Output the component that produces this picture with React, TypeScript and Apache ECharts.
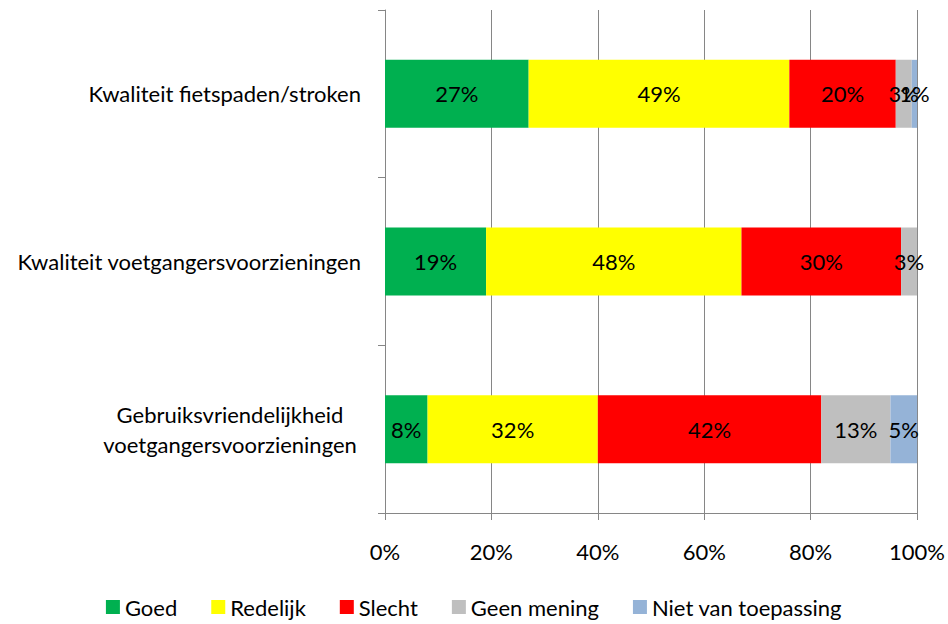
import React, { useEffect, useRef } from "react";
import * as echarts from "echarts";

const categories = [
  "Kwaliteit fietspaden/stroken",
  "Kwaliteit voetgangersvoorzieningen",
  "Gebruiksvriendelijkheid\nvoetgangersvoorzieningen",
];
const seriesNames = ["Goed", "Redelijk", "Slecht", "Geen mening", "Niet van toepassing"];
const goed = [27, 19, 8];
const redelijk = [49, 48, 32];
const slecht = [20, 30, 42];
const geenMening = [3, 3, 13];
const nietVanToepassing = [1, null, 5];
const xTicks = [0, 20, 40, 60, 80, 100];

const colors = ["#00B050", "#FFFF00", "#FF0000", "#BFBFBF", "#95B3D7"];
const FONT = "Lato";
const FS = 22;

export default function App() {
  const ref = useRef<HTMLDivElement>(null);
  useEffect(() => {
    document.body.style.margin = "0";
    if (!ref.current) return;
    const chart = echarts.init(ref.current, null, { renderer: "svg" });
    const values = [goed, redelijk, slecht, geenMening, nietVanToepassing];
    chart.setOption({
      animation: false,
      textStyle: { fontFamily: FONT },
      grid: { left: 385, right: 28, top: 10, bottom: 111, containLabel: false },
      legend: {
        bottom: 4,
        left: "center",
        padding: 0,
        icon: "rect",
        itemWidth: 14,
        itemHeight: 14,
        itemGap: 34,
        textStyle: { fontSize: FS, color: "#000", fontFamily: FONT, lineHeight: 26 },
        data: seriesNames,
      },
      xAxis: {
        type: "value",
        min: xTicks[0],
        max: xTicks[xTicks.length - 1],
        interval: 20,
        axisLine: { show: true, lineStyle: { color: "#868686" } },
        axisTick: { show: true, length: 7, lineStyle: { color: "#868686" } },
        splitLine: { show: true, lineStyle: { color: "#868686" } },
        axisLabel: {
          formatter: "{value}%",
          fontSize: FS,
          color: "#000",
          margin: 27,
          fontFamily: FONT,
        },
      },
      yAxis: {
        type: "category",
        inverse: true,
        data: categories,
        axisLine: { show: true, lineStyle: { color: "#868686" } },
        axisTick: { show: true, length: 7, lineStyle: { color: "#868686" } },
        axisLabel: {
          fontSize: FS,
          color: "#000",
          margin: 24,
          fontFamily: FONT,
          lineHeight: 30,
          formatter: (v: string) => {
            if (v.indexOf("\n") >= 0) {
              return v
                .split("\n")
                .map((s) => "{c|" + s + "}")
                .join("\n");
            }
            return v;
          },
          rich: {
            c: { width: 262, align: "center", fontSize: FS, fontFamily: FONT, color: "#000", lineHeight: 30 },
          },
        },
      },
      series: seriesNames.map((name, i) => ({
        name,
        type: "bar",
        stack: "total",
        barWidth: 68,
        itemStyle: { color: colors[i] },
        label: {
          show: true,
          position: "inside",
          formatter: (p: any) => (p.value == null ? "" : p.value + "%"),
          fontSize: FS,
          color: "#000",
          fontFamily: FONT,
        },
        data: values[i],
      })),
    });
    return () => chart.dispose();
  }, []);
  return <div ref={ref} style={{ width: 948, height: 624 }} />;
}
